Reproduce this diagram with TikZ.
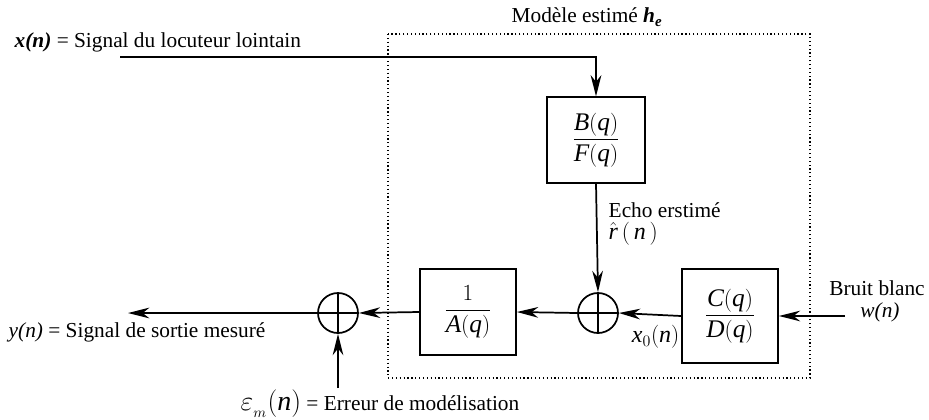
\documentclass[tikz,border=0pt]{standalone}
\usepackage{amsmath}
\usepackage{fontspec}
\setmainfont{Liberation Serif}
\newfontfamily\tms{Liberation Serif}
\usepackage{tikz}
\usetikzlibrary{arrows.meta}

\newcommand{\mi}[1]{\textit{#1}}

\begin{document}
\begin{tikzpicture}[x=0.75pt,y=-0.75pt,font=\tms\fontsize{16}{18}\selectfont,
  box/.style={draw,line width=1.3pt,inner sep=2pt,font=\tms\fontsize{19}{21}\selectfont},
  sumnode/.style={draw,circle,line width=1.3pt,minimum size=30pt,inner sep=0pt},
  arr/.style={line width=1.3pt,-{Stealth[length=16pt,width=8pt,inset=5pt]}},
  frame/.style={dotted,line width=0.9pt}]
  \useasboundingbox (0,0) rectangle (929,419);
  % model frame
  \draw[frame] (388,34) rectangle (810,378);
  \node (title) at (587,17) {Modèle estimé \textbf{\mi{h}\textsubscript{\mi{e}}}};
  % blocks
  \node[box,minimum width=73pt,minimum height=64pt] (bf) at (596,140)
    {$\dfrac{\mi{B}(\mi{q})}{\mi{F}(\mi{q})}$};
  \node[box,minimum width=72pt,minimum height=64pt] (ia) at (468,312)
    {$\dfrac{1}{\mi{A}(\mi{q})}$};
  \node[box,minimum width=72pt,minimum height=71pt] (cd) at (730,316)
    {$\dfrac{\mi{C}(\mi{q})}{\mi{D}(\mi{q})}$};
  \node[sumnode] (s1) at (598,313) {};
  \node[sumnode] (s2) at (338,313) {};
  \draw[line width=1.3pt] (s1.north)--(s1.south) (s1.west)--(s1.east);
  \draw[line width=1.3pt] (s2.north)--(s2.south) (s2.west)--(s2.east);
  % free ends
  \coordinate (xin) at (120,57);
  \coordinate (yout) at (128,313);
  \coordinate (win) at (845,316);
  \coordinate (eps) at (338,388);
  % signals
  \draw[arr] (xin) -| (bf.north);
  \draw[arr] (bf.south) -- (s1.north);
  \draw[arr] (win) -- (cd.east);
  \draw[arr] (cd.west) -- (s1.east);
  \draw[arr] (s1.west) -- (ia.east);
  \draw[arr] (ia.west) -- (s2.east);
  \draw[arr] (s2.west) -- (yout);
  \draw[arr] (eps) -- (s2.south);
  % labels
  \node[anchor=west] (xlab) at (10,42) {\textbf{\mi{x(n)}} = Signal du locuteur lointain};
  \node[anchor=west] (ylab) at (4,332) {\mi{y(n)} = Signal de sortie mesuré};
  \node[anchor=west] (echo) at (604,210) {Echo erstimé};
  \node[anchor=west,font=\tms\fontsize{18}{20}\selectfont] (rhat) at (604,234) {$\hat{\mi{r}}\,(\,\mi{n}\,)$};
  \node[anchor=east,inner sep=1pt,font=\tms\fontsize{18}{20}\selectfont] (x0) at (681,337) {$\mi{x}_0(\mi{n})$};
  \node[inner sep=1pt] (bruit) at (877,288) {Bruit blanc};
  \node[inner sep=1pt] (wlab) at (880,312) {\mi{w(n)}};
  \node[anchor=west] (elab) at (236,404) {{\fontsize{21}{23}\selectfont$\varepsilon_{_m}(\mi{n})$} = Erreur de modélisation};
\end{tikzpicture}
\end{document}
